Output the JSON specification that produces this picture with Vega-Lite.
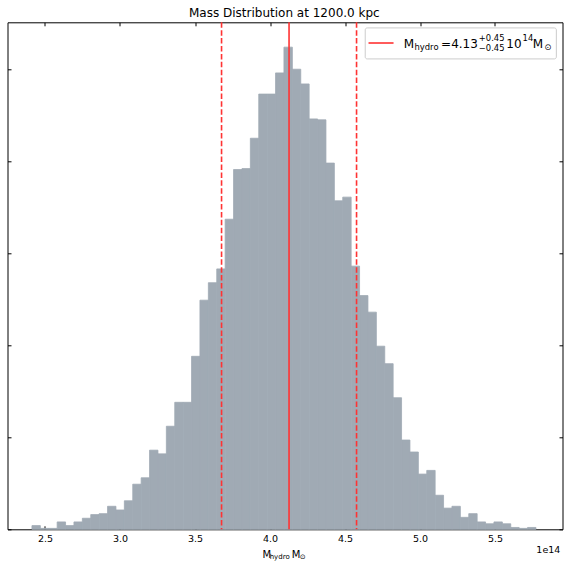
{
  "$schema": "https://vega.github.io/schema/vega-lite/v6.json",
  "width": 555,
  "height": 507,
  "autosize": {"type": "none"},
  "padding": {"left": 7.5, "top": 22.3, "right": 5.5, "bottom": 38.2},
  "config": {
    "font": "DejaVu Sans",
    "view": {"stroke": "#000", "strokeWidth": 1},
    "axis": {"grid": false, "domain": false, "tickColor": "#000", "tickWidth": 1, "labelOverlap": false}
  },
  "datasets": {
    "hist": [
      {"start": 2.413, "end": 2.469, "count": 4},
      {"start": 2.469, "end": 2.525, "count": 1},
      {"start": 2.525, "end": 2.581, "count": 1},
      {"start": 2.581, "end": 2.637, "count": 8},
      {"start": 2.637, "end": 2.693, "count": 4},
      {"start": 2.693, "end": 2.749, "count": 8},
      {"start": 2.749, "end": 2.805, "count": 12},
      {"start": 2.805, "end": 2.861, "count": 16},
      {"start": 2.861, "end": 2.917, "count": 17},
      {"start": 2.917, "end": 2.973, "count": 25},
      {"start": 2.973, "end": 3.029, "count": 21},
      {"start": 3.029, "end": 3.085, "count": 31},
      {"start": 3.085, "end": 3.141, "count": 49},
      {"start": 3.141, "end": 3.197, "count": 56},
      {"start": 3.197, "end": 3.253, "count": 86},
      {"start": 3.253, "end": 3.309, "count": 82},
      {"start": 3.309, "end": 3.365, "count": 112},
      {"start": 3.365, "end": 3.421, "count": 138},
      {"start": 3.421, "end": 3.477, "count": 138},
      {"start": 3.477, "end": 3.533, "count": 188},
      {"start": 3.533, "end": 3.589, "count": 249},
      {"start": 3.589, "end": 3.645, "count": 268},
      {"start": 3.645, "end": 3.701, "count": 283},
      {"start": 3.701, "end": 3.757, "count": 337},
      {"start": 3.757, "end": 3.813, "count": 391},
      {"start": 3.813, "end": 3.869, "count": 392},
      {"start": 3.869, "end": 3.925, "count": 425},
      {"start": 3.925, "end": 3.981, "count": 473},
      {"start": 3.981, "end": 4.037, "count": 473},
      {"start": 4.037, "end": 4.093, "count": 496},
      {"start": 4.093, "end": 4.149, "count": 524},
      {"start": 4.149, "end": 4.205, "count": 500},
      {"start": 4.205, "end": 4.261, "count": 484},
      {"start": 4.261, "end": 4.317, "count": 446},
      {"start": 4.317, "end": 4.373, "count": 445},
      {"start": 4.373, "end": 4.429, "count": 398},
      {"start": 4.429, "end": 4.485, "count": 357},
      {"start": 4.485, "end": 4.541, "count": 361},
      {"start": 4.541, "end": 4.597, "count": 286},
      {"start": 4.597, "end": 4.653, "count": 254},
      {"start": 4.653, "end": 4.709, "count": 236},
      {"start": 4.709, "end": 4.765, "count": 199},
      {"start": 4.765, "end": 4.821, "count": 180},
      {"start": 4.821, "end": 4.877, "count": 143},
      {"start": 4.877, "end": 4.933, "count": 97},
      {"start": 4.933, "end": 4.989, "count": 84},
      {"start": 4.989, "end": 5.045, "count": 60},
      {"start": 5.045, "end": 5.101, "count": 64},
      {"start": 5.101, "end": 5.157, "count": 37},
      {"start": 5.157, "end": 5.213, "count": 23},
      {"start": 5.213, "end": 5.269, "count": 25},
      {"start": 5.269, "end": 5.325, "count": 13},
      {"start": 5.325, "end": 5.381, "count": 17},
      {"start": 5.381, "end": 5.437, "count": 8},
      {"start": 5.437, "end": 5.493, "count": 6},
      {"start": 5.493, "end": 5.549, "count": 8},
      {"start": 5.549, "end": 5.605, "count": 6},
      {"start": 5.605, "end": 5.661, "count": 2},
      {"start": 5.661, "end": 5.717, "count": 1},
      {"start": 5.717, "end": 5.773, "count": 2}
    ],
    "one": [{}]
  },
  "layer": [
    {
      "data": {"name": "hist"},
      "mark": {"type": "rect", "color": "#a0aab4", "stroke": "#a0aab4", "strokeWidth": 0.8},
      "encoding": {
        "x": {
          "field": "start", "type": "quantitative",
          "scale": {"domain": [2.25, 5.95], "nice": false, "zero": false},
          "axis": {
            "orient": "bottom", "title": null,
            "values": [2.5, 3, 3.5, 4, 4.5, 5, 5.5], "format": ".1f",
            "tickSize": -3.5, "labelPadding": 15.2, "labelBaseline": "alphabetic",
            "labelFontSize": 9.5, "labelColor": "#000"
          }
        },
        "x2": {"field": "end"},
        "y": {
          "field": "count", "type": "quantitative",
          "scale": {"domain": [0, 551], "nice": false},
          "axis": {"orient": "left", "title": null, "labels": false, "values": [0, 100, 200, 300, 400, 500], "tickSize": -3.5}
        },
        "y2": {"datum": 0}
      }
    },
    {
      "data": {"name": "hist"},
      "mark": {"type": "rect", "opacity": 0},
      "encoding": {
        "x": {
          "field": "start", "type": "quantitative",
          "axis": {"orient": "top", "title": null, "labels": false, "values": [2.5, 3, 3.5, 4, 4.5, 5, 5.5], "tickSize": -3.5}
        },
        "x2": {"field": "end"},
        "y": {
          "field": "count", "type": "quantitative",
          "axis": {"orient": "right", "title": null, "labels": false, "values": [0, 100, 200, 300, 400, 500], "tickSize": -3.5}
        },
        "y2": {"datum": 0}
      }
    },
    {
      "data": {"name": "one"},
      "mark": {"type": "rule", "color": "#ff3333", "strokeWidth": 1.6, "strokeDash": [5.5, 2.4]},
      "encoding": {"x": {"datum": 3.677, "axis": null}}
    },
    {
      "data": {"name": "one"},
      "mark": {"type": "rule", "color": "#ff3333", "strokeWidth": 1.6, "strokeDash": [5.5, 2.4]},
      "encoding": {"x": {"datum": 4.577, "axis": null}}
    },
    {
      "data": {"name": "one"},
      "mark": {"type": "rule", "color": "#ff3333", "strokeWidth": 1.6},
      "encoding": {"x": {"datum": 4.127, "axis": null}}
    },
    {
      "data": {"name": "one"},
      "mark": {"type": "text", "text": "Mass Distribution at 1200.0 kpc", "align": "center", "baseline": "alphabetic", "fontSize": 12, "color": "#000"},
      "encoding": {"x": {"datum": 4.0957, "axis": null}, "y": {"datum": 556.5, "axis": null}}
    },
    {
      "data": {"name": "one"},
      "mark": {"type": "rect", "fill": "#ffffff", "fillOpacity": 0.8, "stroke": "#cccccc", "strokeWidth": 1, "cornerRadius": 2},
      "encoding": {
        "x": {"datum": 4.6348, "axis": null}, "x2": {"datum": 5.909},
        "y": {"datum": 544.9, "axis": null}, "y2": {"datum": 511.2}
      }
    },
    {
      "data": {"name": "one"},
      "mark": {"type": "rule", "color": "#ff3333", "strokeWidth": 1.6},
      "encoding": {
        "x": {"datum": 4.6568, "axis": null}, "x2": {"datum": 4.8236},
        "y": {"datum": 528.5, "axis": null}
      }
    },
    {
      "data": {"name": "one"},
      "mark": {"type": "text", "text": "M", "align": "left", "baseline": "alphabetic", "fontSize": 12, "color": "#000"},
      "encoding": {"x": {"datum": 4.8916, "axis": null}, "y": {"datum": 523.1, "axis": null}}
    },
    {
      "data": {"name": "one"},
      "mark": {"type": "text", "text": "hydro", "align": "left", "baseline": "alphabetic", "fontSize": 8.4, "color": "#000"},
      "encoding": {"x": {"datum": 4.9636, "axis": null}, "y": {"datum": 520.4, "axis": null}}
    },
    {
      "data": {"name": "one"},
      "mark": {"type": "text", "text": "=", "align": "left", "baseline": "alphabetic", "fontSize": 12, "color": "#000"},
      "encoding": {"x": {"datum": 5.1404, "axis": null}, "y": {"datum": 523.1, "axis": null}}
    },
    {
      "data": {"name": "one"},
      "mark": {"type": "text", "text": "4.13", "align": "left", "baseline": "alphabetic", "fontSize": 12, "color": "#000"},
      "encoding": {"x": {"datum": 5.2078, "axis": null}, "y": {"datum": 523.1, "axis": null}}
    },
    {
      "data": {"name": "one"},
      "mark": {"type": "text", "text": "+0.45", "align": "left", "baseline": "alphabetic", "fontSize": 8.4, "color": "#000"},
      "encoding": {"x": {"datum": 5.392, "axis": null}, "y": {"datum": 530.2, "axis": null}}
    },
    {
      "data": {"name": "one"},
      "mark": {"type": "text", "text": "−0.45", "align": "left", "baseline": "alphabetic", "fontSize": 8.4, "color": "#000"},
      "encoding": {"x": {"datum": 5.392, "axis": null}, "y": {"datum": 519.5, "axis": null}}
    },
    {
      "data": {"name": "one"},
      "mark": {"type": "text", "text": "10", "align": "left", "baseline": "alphabetic", "fontSize": 12, "color": "#000"},
      "encoding": {"x": {"datum": 5.5754, "axis": null}, "y": {"datum": 523.1, "axis": null}}
    },
    {
      "data": {"name": "one"},
      "mark": {"type": "text", "text": "14", "align": "left", "baseline": "alphabetic", "fontSize": 8.4, "color": "#000"},
      "encoding": {"x": {"datum": 5.684, "axis": null}, "y": {"datum": 530.7, "axis": null}}
    },
    {
      "data": {"name": "one"},
      "mark": {"type": "text", "text": "M", "align": "left", "baseline": "alphabetic", "fontSize": 12, "color": "#000"},
      "encoding": {"x": {"datum": 5.751, "axis": null}, "y": {"datum": 523.1, "axis": null}}
    },
    {
      "data": {"name": "one"},
      "mark": {"type": "text", "text": "⊙", "align": "left", "baseline": "alphabetic", "fontSize": 8.4, "color": "#000"},
      "encoding": {"x": {"datum": 5.829, "axis": null}, "y": {"datum": 520.4, "axis": null}}
    },
    {
      "data": {"name": "one"},
      "mark": {"type": "text", "text": "M", "align": "left", "baseline": "alphabetic", "fontSize": 10, "color": "#000"},
      "encoding": {"x": {"datum": 3.9496, "axis": null}, "y": {"datum": -31.2, "axis": null}}
    },
    {
      "data": {"name": "one"},
      "mark": {"type": "text", "text": "hydro", "align": "left", "baseline": "alphabetic", "fontSize": 7, "color": "#000"},
      "encoding": {"x": {"datum": 3.9977, "axis": null}, "y": {"datum": -32.8, "axis": null}}
    },
    {
      "data": {"name": "one"},
      "mark": {"type": "text", "text": "M", "align": "left", "baseline": "alphabetic", "fontSize": 10, "color": "#000"},
      "encoding": {"x": {"datum": 4.1444, "axis": null}, "y": {"datum": -31.2, "axis": null}}
    },
    {
      "data": {"name": "one"},
      "mark": {"type": "text", "text": "⊙", "align": "left", "baseline": "alphabetic", "fontSize": 7, "color": "#000"},
      "encoding": {"x": {"datum": 4.198, "axis": null}, "y": {"datum": -32.8, "axis": null}}
    },
    {
      "data": {"name": "one"},
      "mark": {"type": "text", "text": "1e14", "align": "right", "baseline": "alphabetic", "fontSize": 9.5, "color": "#000"},
      "encoding": {"x": {"datum": 5.9356, "axis": null}, "y": {"datum": -26.1, "axis": null}}
    }
  ],
  "resolve": {"axis": {"x": "independent", "y": "independent"}}
}
